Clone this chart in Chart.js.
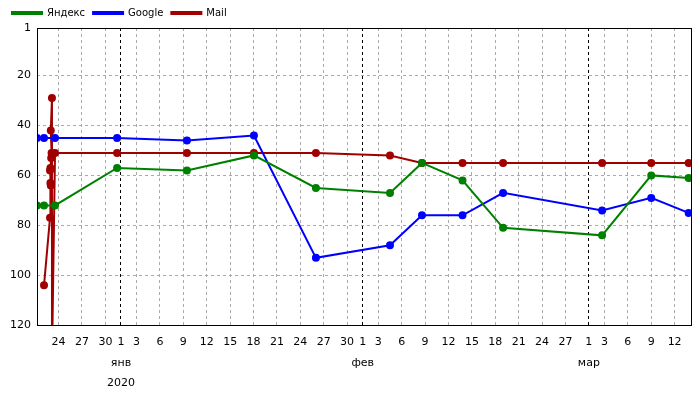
<!DOCTYPE html>
<html><head><meta charset="utf-8">
<script src="https://cdn.jsdelivr.net/npm/chart.js@4/dist/chart.umd.min.js"></script>
<style>html,body{margin:0;padding:0;background:#fff}</style>
</head><body><canvas id="c" width="700" height="400"></canvas>
<script>
// x = days from 1 Jan 2020
const yandexX = [-10.77,-9.87,-8.46,-0.5,8.46,17.05,25,34.5,38.6,43.8,49,61.7,68,72.8];
const yandexY = [72,72,72,57,58,52,65,67,55,62,81,84,60,61];
const googleX = [-10.77,-9.87,-8.46,-0.5,8.46,17.05,25,34.5,38.6,43.8,49,61.7,68,72.8];
const googleY = [45,45,45,45,46,44,93,88,76,76,67,74,69,75];
const mailX = [-9.87,-9.1,-9.0,-9.05,-9.1,-9.05,-8.95,-8.9,-9.0,-8.85,-8.85,-8.46,-0.5,8.46,17.05,25,34.5,38.6,43.8,49,61.7,68,72.8];
const mailY = [104,77,64,63,58,57,53,51,42,29,135,51,51,51,51,51,52,55,55,55,55,55,55];
const tickDays = [-8,-5,-2,0,2,5,8,11,14,17,20,23,26,29,31,33,36,39,42,45,48,51,54,57,60,62,65,68,71];
const tickLabels = ["24","27","30",["1","янв","2020"],"3","6","9","12","15","18","21","24","27","30",["1","фев"],"3","6","9","12","15","18","21","24","27",["1","мар"],"3","6","9","12"];
const monthDays = [0,31,60];
const yTicks = [1,20,40,60,80,100,120];

const pts = (xs,ys)=>xs.map((x,i)=>({x:x,y:ys[i]}));
const border = {id:'border',afterDraw(ch){const a=ch.chartArea,c=ch.ctx;c.save();c.strokeStyle='#000';c.lineWidth=1;c.strokeRect(Math.round(a.left)+0.5,Math.round(a.top)+0.5,Math.round(a.width),Math.round(a.height));c.restore();}};
const ds=(l,col,xs,ys)=>({label:l,data:pts(xs,ys),borderColor:col,backgroundColor:col,borderWidth:2,pointRadius:3,pointHoverRadius:3,tension:0});
new Chart(document.getElementById('c'),{type:'line',
data:{datasets:[ds('Яндекс','#008000',yandexX,yandexY),ds('Google','#0000ff',googleX,googleY),ds('Mail','#a00000',mailX,mailY)]},
options:{responsive:false,animation:false,devicePixelRatio:1,
 layout:{padding:{right:9,top:0,left:4}},
 plugins:{legend:{position:'top',align:'start',labels:{boxWidth:30,boxHeight:2,font:{family:'DejaVu Sans',size:10},color:'#000',padding:8}},tooltip:{enabled:false}},
 scales:{
  x:{type:'linear',min:-10.77,max:73.1,
   afterBuildTicks:s=>{s.ticks=tickDays.map(v=>({value:v}));},
   ticks:{autoSkip:false,maxRotation:0,color:'#000',padding:6,font:{family:'DejaVu Sans',size:11,lineHeight:1.9},callback:(v)=>{const i=tickDays.indexOf(v);return i>=0?tickLabels[i]:'';}},
   grid:{color:c=>monthDays.includes(c.tick&&c.tick.value)?'#000':'#aaa',drawTicks:false},
   border:{display:false,dash:[3,3]}},
  y:{type:'linear',reverse:true,min:1,max:120,
   afterBuildTicks:s=>{s.ticks=yTicks.map(v=>({value:v}));},
   ticks:{color:'#000',font:{family:'DejaVu Sans',size:11},padding:6},
   grid:{color:'#aaa',drawTicks:false},
   border:{display:false,dash:[3,3]}}
 }},
plugins:[border]});
</script></body></html>
